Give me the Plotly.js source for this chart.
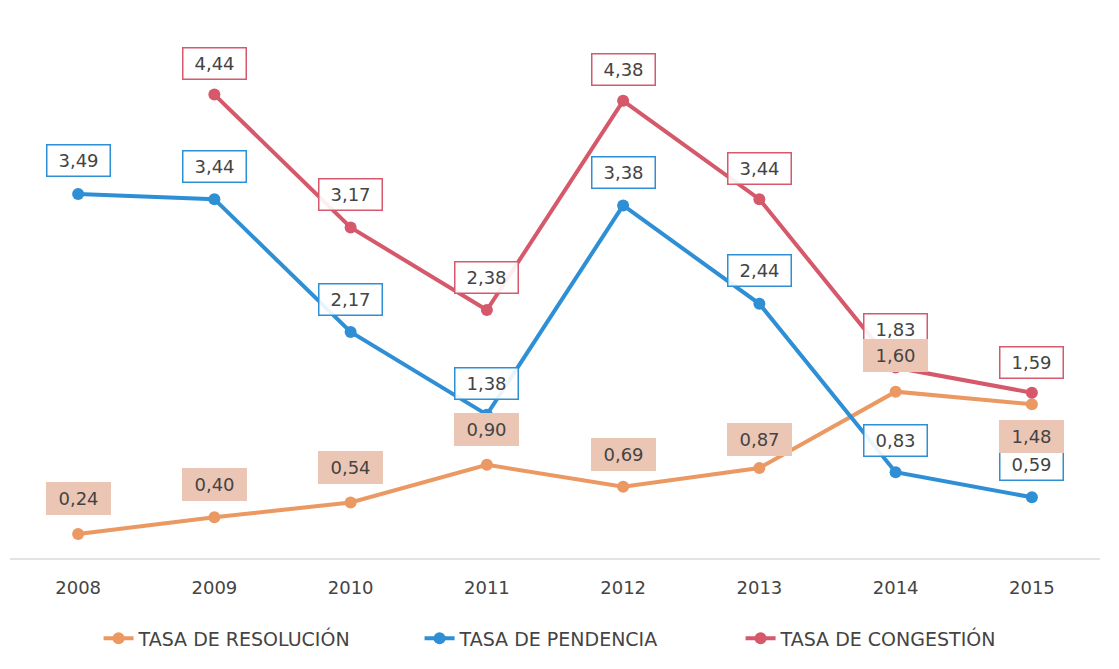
<!DOCTYPE html>
<html>
<head>
<meta charset="utf-8">
<script src="https://cdn.plot.ly/plotly-3.0.1.min.js"></script>
<style>html,body{margin:0;padding:0;background:#fff;}#chart{width:1119px;height:669px;}</style>
</head>
<body>
<div id="chart"></div>
<script>
var years = ['2008','2009','2010','2011','2012','2013','2014','2015'];
var resolucion = [0.24, 0.40, 0.54, 0.90, 0.69, 0.87, 1.60, 1.48];
var pendencia = [3.49, 3.44, 2.17, 1.38, 3.38, 2.44, 0.83, 0.59];
var congestion = [null, 4.44, 3.17, 2.38, 4.38, 3.44, 1.83, 1.59];
var seriesNames = ['TASA DE RESOLUCIÓN', 'TASA DE PENDENCIA', 'TASA DE CONGESTIÓN'];

var cOrange = '#eb9862', cBlue = '#2f8fd5', cRed = '#d5596a';
var FONT = 'DejaVu Sans, sans-serif';

function mk(name, vals, color){
  return {x: years, y: vals, name: name, type: 'scatter', mode: 'lines+markers',
    line: {color: color, width: 4}, marker: {color: color, size: 12}, connectgaps: false};
}
var data = [mk(seriesNames[0], resolucion, cOrange), mk(seriesNames[1], pendencia, cBlue), mk(seriesNames[2], congestion, cRed)];

function fmt(v){ return v.toFixed(2).replace('.', ','); }
var ann = [];
function addLabels(vals, bg, border, shifts){
  for (var i = 0; i < vals.length; i++){
    var v = vals[i];
    if (v === null) continue;
    ann.push({xref: 'x', yref: 'y', x: i, y: v, text: fmt(v), showarrow: false,
      yshift: shifts[i], font: {family: FONT, size: 18, color: '#444'}, width: 54, height: 22,
      borderpad: 4, bgcolor: bg, bordercolor: border, borderwidth: 1.5});
  }
}
try {
addLabels(pendencia, 'rgba(255,255,255,0.9)', cBlue, [33,33,33,31,33,33,32,33]);
addLabels(congestion, 'rgba(255,255,255,0.9)', cRed, [33,31,33,33,31,31,38,30]);
addLabels(resolucion, '#ecc6b4', '#ecc6b4', [35,33,35,35,32,29,36,-32]);

var layout = {
  width: 1119, height: 669,
  margin: {l: 10, r: 19, t: 36, b: 110},
  paper_bgcolor: '#fff', plot_bgcolor: '#fff',
  showlegend: true,
  legend: {orientation: 'h', x: 0.523, xanchor: 'center', y: -0.152, yanchor: 'middle',
    font: {family: FONT, size: 19, color: '#444'}, entrywidth: 276, entrywidthmode: 'pixels'},
  xaxis: {type: 'category', range: [-0.5, 7.5], showgrid: false, zeroline: false, showline: false,
    ticks: 'outside', ticklen: 12, tickcolor: 'rgba(0,0,0,0)',
    tickfont: {family: FONT, size: 18, color: '#444'}},
  yaxis: {range: [0, 5], showgrid: false, zeroline: true, zerolinecolor: '#e3e3e3', zerolinewidth: 1.5,
    showticklabels: false, fixedrange: true},
  annotations: ann
};
Plotly.newPlot('chart', data, layout, {displayModeBar: false, staticPlot: true});
} catch(e) { document.body.insertAdjacentHTML('beforeend', '<pre>' + e + '</pre>'); }
</script>
</body>
</html>
